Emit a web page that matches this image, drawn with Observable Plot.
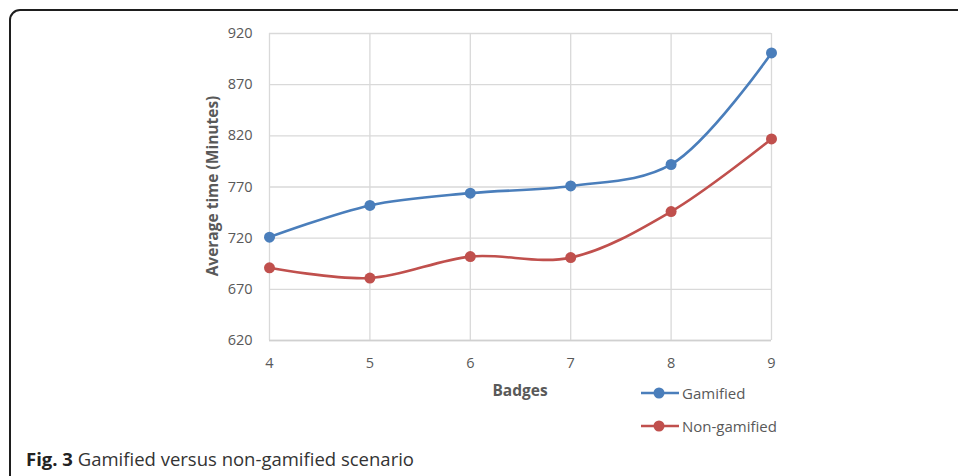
<!DOCTYPE html>
<html>
<head>
<meta charset="utf-8">
<script src="https://cdn.jsdelivr.net/npm/d3@7"></script>
<script src="https://cdn.jsdelivr.net/npm/@observablehq/plot@0.6"></script>
<style>
  html, body { margin: 0; padding: 0; background: #fff; overflow: hidden; }
  #wrap { position: relative; width: 958px; height: 476px; overflow: hidden; font-family: "Open Sans", sans-serif; }
  #frame { position: absolute; left: 9px; top: 9px; width: 1000px; height: 520px; border: 2px solid #1e1e1e; border-radius: 11px; box-sizing: border-box; }
  #chart { position: absolute; left: 0; top: 0; }
  #chart svg text { font-size: 14.5px !important; font-family: "Open Sans", sans-serif; }
  .lbl { position: absolute; color: #595959; font-weight: bold; font-size: 15.5px; white-space: nowrap; }
  #ylab { left: 212px; top: 186px; transform: translate(-50%, -50%) rotate(-90deg); }
  #xlab { left: 520px; top: 390px; transform: translate(-50%, -50%); }
  .leg { position: absolute; display: flex; align-items: center; font-size: 15px; color: #595959; }
  .leg svg { margin-right: 2px; }
  #caption { position: absolute; left: 26px; top: 446px; font-size: 18.5px; color: #333; white-space: nowrap; }
  #caption b { color: #222; }
</style>
</head>
<body>
<div id="wrap">
  <div id="frame"></div>
  <div id="chart"></div>
  <div class="lbl" id="ylab">Average time (Minutes)</div>
  <div class="lbl" id="xlab">Badges</div>
  <div id="legend"></div>
  <div id="caption"><b>Fig. 3</b> Gamified versus non-gamified scenario</div>
</div>
<script>
const badges = [4, 5, 6, 7, 8, 9];
const gamified = [721, 752, 764, 771, 792, 901];
const nonGamified = [691, 681, 702, 701, 746, 817];
const yTicks = [620, 670, 720, 770, 820, 870, 920];
const seriesNames = ["Gamified", "Non-gamified"];
const seriesColors = ["#4a7ebb", "#c0504d"];

const rows = [];
badges.forEach((b, i) => {
  rows.push({badge: b, value: gamified[i], series: seriesNames[0]});
  rows.push({badge: b, value: nonGamified[i], series: seriesNames[1]});
});

const plot = Plot.plot({
  width: 958,
  height: 476,
  marginLeft: 269,
  marginRight: 187,
  marginTop: 33,
  marginBottom: 136,
  style: {fontFamily: "Open Sans, sans-serif", fontSize: "14.5px", color: "#595959", background: "transparent"},
  x: {domain: [4, 9], ticks: badges},
  y: {domain: [620, 920], ticks: yTicks},
  color: {domain: seriesNames, range: seriesColors},
  marks: [
    Plot.gridY(yTicks, {stroke: "#d9d9d9", strokeOpacity: 1, strokeWidth: 1.3}),
    Plot.gridX(badges, {stroke: "#d9d9d9", strokeOpacity: 1, strokeWidth: 1.3}),
    Plot.ruleY([620], {stroke: "#d0d0d0", strokeWidth: 1.5}),
    Plot.axisX(badges, {tickSize: 0, tickPadding: 17, label: null, fill: "#595959", fontSize: 14.5}),
    Plot.axisY(yTicks, {tickSize: 0, tickPadding: 17, label: null, fill: "#595959", fontSize: 14.5}),
    Plot.line(rows, {x: "badge", y: "value", z: "series", stroke: "series", strokeWidth: 2.6, curve: "catmull-rom"}),
    Plot.dot(rows, {x: "badge", y: "value", fill: "series", r: 5.5})
  ]
});
document.getElementById("chart").appendChild(plot);

const legend = document.getElementById("legend");
const legTops = [393, 426];
seriesNames.forEach((name, i) => {
  const d = document.createElement("div");
  d.className = "leg";
  d.style.left = "640px";
  d.style.top = (legTops[i] - 11) + "px";
  d.innerHTML = `<svg width="40" height="22"><line x1="1" y1="11" x2="39" y2="11" stroke="${seriesColors[i]}" stroke-width="2.6"/><circle cx="19" cy="11" r="5.5" fill="${seriesColors[i]}"/></svg><span>${name}</span>`;
  legend.appendChild(d);
});
</script>
</body>
</html>
